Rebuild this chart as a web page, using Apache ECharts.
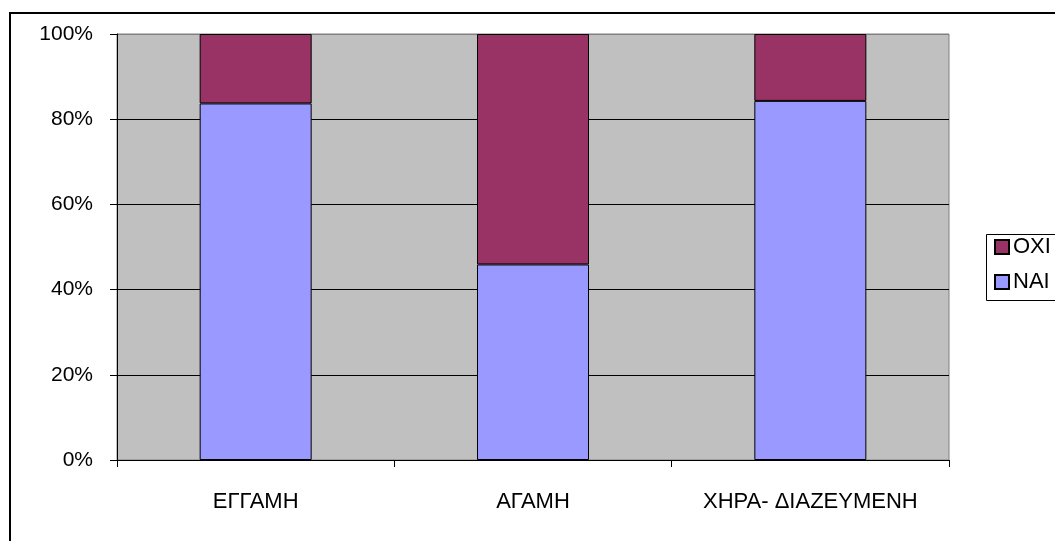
<!DOCTYPE html>
<html>
<head>
<meta charset="utf-8">
<script src="https://cdn.jsdelivr.net/npm/echarts@6/dist/echarts.min.js"></script>
<style>
  html, body { margin: 0; padding: 0; background: #ffffff; }
  #chart { width: 1055px; height: 541px; }
</style>
</head>
<body>
<div id="chart"></div>
<script>
// Marital status categories
const categories = ['ΕΓΓΑΜΗ', 'ΑΓΑΜΗ', 'ΧΗΡΑ- ΔΙΑΖΕΥΜΕΝΗ'];
// Share of answers per category (percent)
const naiValues = [83.7, 45.9, 84.3];
const oxiValues = [16.3, 54.1, 15.7];
// Y-axis ticks (percent)
const yTicks = [0, 20, 40, 60, 80, 100];

const FONT = 'Liberation Sans, Arial, sans-serif';

const chart = echarts.init(document.getElementById('chart'), null, { renderer: 'canvas' });

chart.setOption({
  animation: false,
  backgroundColor: '#ffffff',
  grid: {
    left: 117, top: 34, right: 106, bottom: 81,
    show: true,
    backgroundColor: '#C0C0C0',
    borderColor: '#808080',
    borderWidth: 1
  },
  legend: {
    data: ['OXI', 'NAI'],
    orient: 'vertical',
    left: 994,
    top: 236,
    itemWidth: 14,
    itemHeight: 14,
    itemGap: 13,
    icon: 'rect',
    padding: 0,
    textStyle: { fontFamily: FONT, fontSize: 22, color: '#000000', padding: [0, 0, 0, -1] }
  },
  xAxis: {
    type: 'category',
    data: categories,
    axisLine: { show: true, lineStyle: { color: '#000000', width: 1 } },
    axisTick: { show: true, length: 7, interval: 0, lineStyle: { color: '#000000' } },
    axisLabel: { fontFamily: FONT, fontSize: 22, color: '#000000', margin: 31, interval: 0, hideOverlap: false },
    splitLine: { show: false }
  },
  yAxis: {
    type: 'value',
    min: yTicks[0],
    max: yTicks[yTicks.length - 1],
    interval: 20,
    axisLine: { show: true, lineStyle: { color: '#000000', width: 1 } },
    axisTick: { show: true, length: 7, lineStyle: { color: '#000000' } },
    axisLabel: {
      fontFamily: FONT, fontSize: 21, color: '#000000', margin: 24,
      formatter: v => v + '%'
    },
    splitLine: {
      show: true,
      lineStyle: { color: ['#000000', '#000000', '#000000', '#000000', '#000000', '#808080'], width: 1 }
    }
  },
  series: [
    {
      name: 'NAI',
      type: 'bar',
      stack: 'total',
      data: naiValues,
      barWidth: 112,
      itemStyle: { color: '#9999FF', borderColor: '#000000', borderWidth: 1 }
    },
    {
      name: 'OXI',
      type: 'bar',
      stack: 'total',
      data: oxiValues,
      barWidth: 112,
      itemStyle: { color: '#993366', borderColor: '#000000', borderWidth: 1 }
    }
  ],
  graphic: [
    {
      type: 'rect',
      shape: { x: 10, y: 13, width: 1100, height: 600 },
      style: { fill: 'none', stroke: '#000000', lineWidth: 2 },
      z: 10, silent: true
    },
    {
      type: 'rect',
      shape: { x: 986.5, y: 234.5, width: 100, height: 66 },
      style: { fill: 'none', stroke: '#000000', lineWidth: 1 },
      z: 10, silent: true
    }
  ]
});
</script>
</body>
</html>
